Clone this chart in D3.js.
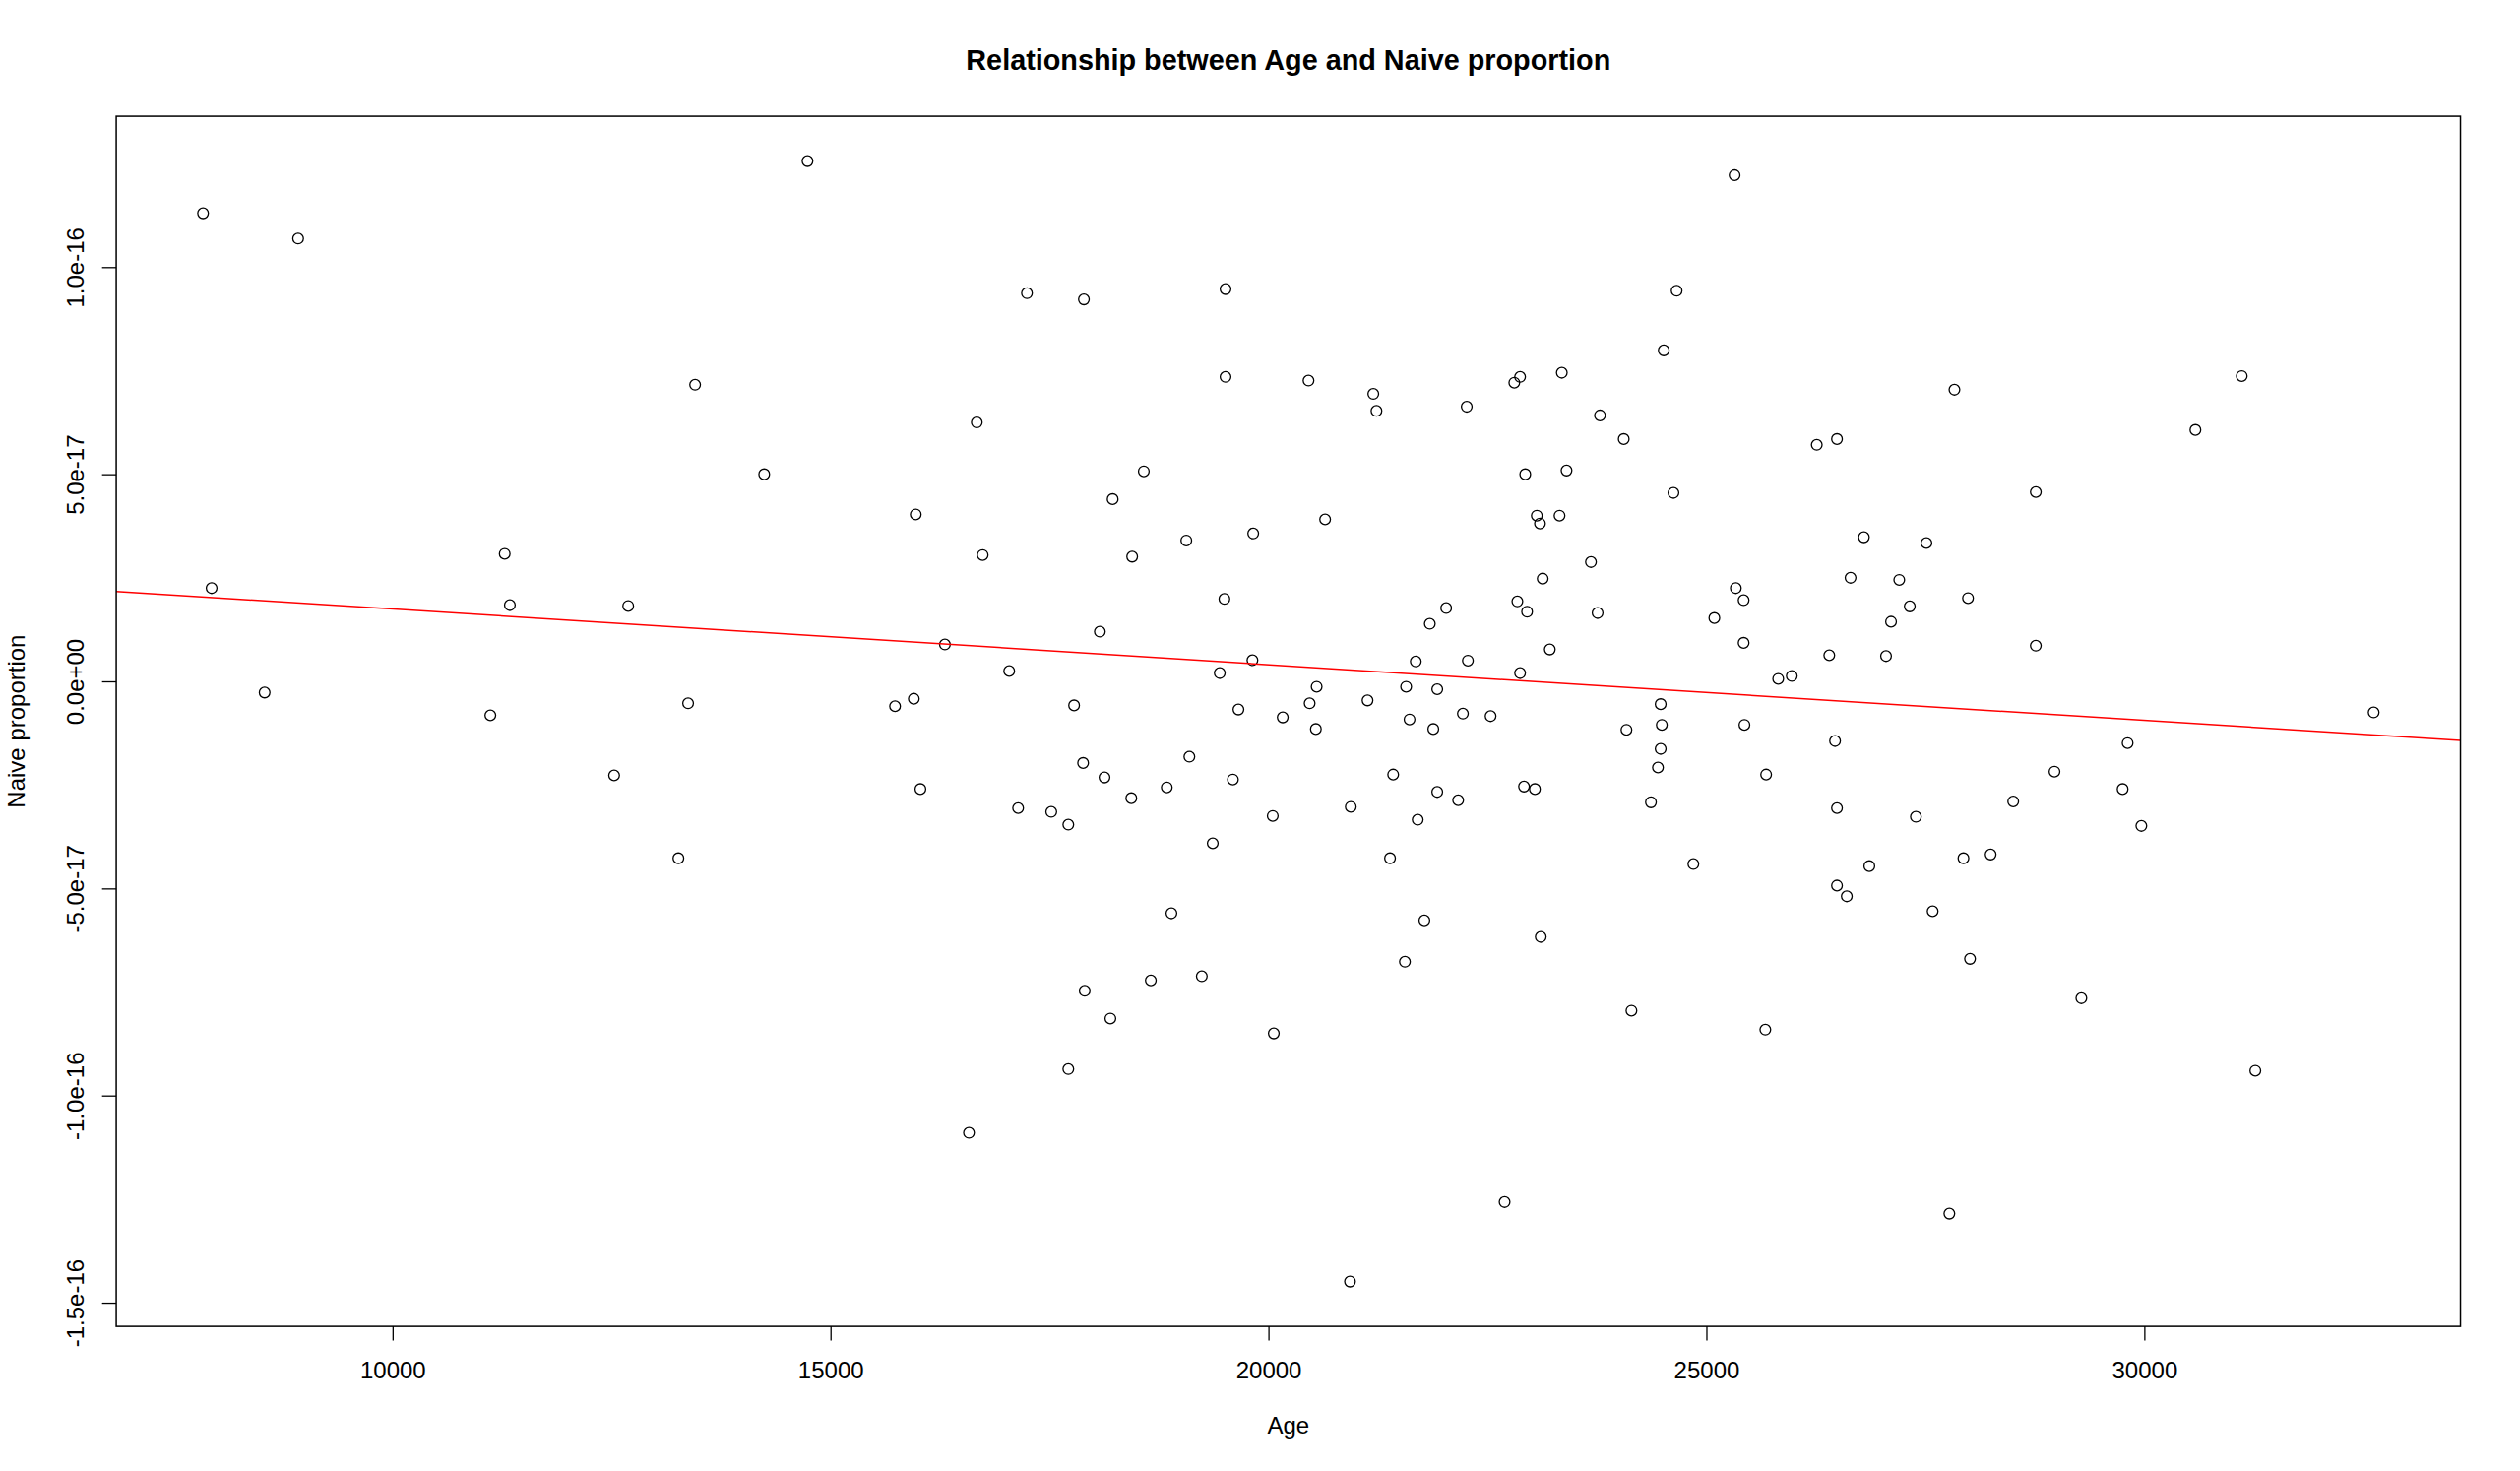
<!DOCTYPE html>
<html>
<head>
<meta charset="utf-8">
<script src="https://cdn.jsdelivr.net/npm/d3@7"></script>
<style>
  html, body { margin: 0; padding: 0; background: #ffffff; }
  svg { display: block; }
  text { font-family: "Liberation Sans", Arial, Helvetica, sans-serif; fill: #000; }
</style>
</head>
<body>
<svg id="chart" width="2560" height="1494"></svg>
<script>
// ---- Data ----
const ages = [
  7836, 8921, 13454, 11280, 7934, 11339, 12690, 8539, 11116, 13374,
  12529, 13263, 14737, 17243, 17893, 19510, 19510, 20457, 16670, 14243,
  18577, 18221, 15973, 19826, 19062, 16737, 18444, 19497, 18075, 16306,
  17040, 19817, 19444, 20550, 15737, 15951, 17781, 19657, 20163, 20470,
  20541, 25322, 24660, 24513, 21197, 21233, 22264, 22807, 22873, 23349,
  23785, 24056, 26260, 26491, 20647, 22932, 23403, 24624, 23064, 23100,
  23323, 23682, 26798, 23131, 22842, 22953, 22029, 21842, 23758, 23212,
  21682, 22277, 22873, 25336, 25425, 25091, 25425, 26646, 27202, 27322,
  27108, 26403, 27051, 25820, 25975, 21131, 21572, 21927, 21611, 21882,
  22220, 22536, 24478, 24491, 24087, 25434, 26469, 27832, 31112, 30583,
  28761, 27512, 27987, 28761, 32618, 29809, 28974, 29752, 28503, 27392,
  29966, 27935, 28245, 27583, 28010, 29281, 31267, 27774, 21424, 20940,
  21927, 22166, 21704, 22918, 23042, 24478, 24447, 24367, 25682, 26491,
  21388, 24851, 26860, 26491, 26603, 21780, 23109, 21558, 24144, 25673,
  22696, 20931, 16026, 17142, 17520, 17715, 17884, 18128, 18434, 18839,
  19097, 19594, 20049, 19364, 18892, 18657, 19239, 17902, 18195, 20061,
  17715, 16581
];
// Naive proportion, in units of 1e-17
const naiveE17 = [
  11.30, 10.69, 7.16, 3.08, 2.25, 1.84, 1.82, -0.27, -0.82, -0.53,
  -2.27, -4.27, 12.56, 9.37, 9.22, 9.47, 7.35, 7.26, 6.25, 5.00,
  5.07, 4.40, 4.03, 3.57, 3.40, 3.05, 3.01, 1.99, 1.20, 0.89,
  0.25, 0.51, 0.20, -0.13, -0.60, -0.42, -0.58, -0.68, -0.87, -0.53,
  -1.15, 12.22, 9.43, 7.99, 6.94, 6.53, 6.63, 7.21, 7.35, 7.45,
  6.42, 5.85, 5.71, 5.85, 3.91, 5.00, 5.09, 4.55, 4.00, 3.81,
  4.00, 2.88, 3.48, 2.48, 1.93, 1.68, 1.77, 1.39, 1.65, 0.77,
  0.48, 0.50, 0.20, 2.25, 1.96, 1.53, 0.93, 2.50, 2.45, 1.81,
  1.44, 0.63, 0.61, 0.06, 0.13, -0.46, -0.13, -0.19, -0.92, -1.15,
  -0.78, -0.84, -0.55, -1.05, -1.17, -1.05, -1.44, 7.04, 7.37, 6.07,
  4.57, 3.34, 2.01, 0.86, -0.75, -1.49, -2.18, -2.60, -2.90, -3.27,
  -3.49, -4.27, -4.18, -5.55, -6.70, -7.65, -9.40, -12.85, -2.25, -3.03,
  -2.67, -2.87, -3.34, -2.54, -2.60, -1.63, -2.08, -2.92, -2.25, -3.06,
  -4.27, -4.41, -4.46, -4.93, -5.19, -5.77, -6.17, -6.77, -7.95, -8.41,
  -12.57, -14.49, -2.60, -3.06, -3.15, -3.46, -1.97, -2.32, -2.82, -2.56,
  -1.82, -2.37, -3.25, -3.91, -5.60, -7.22, -7.12, -7.47, -8.14, -8.50,
  -9.36, -10.90
];
const naive = naiveE17.map(v => v * 1e-17);

const xTicks = [10000, 15000, 20000, 25000, 30000];
const yTicks = [-1.5e-16, -1.0e-16, -5.0e-17, 0, 5.0e-17, 1.0e-16];
const yTickLabels = ["-1.5e-16", "-1.0e-16", "-5.0e-17", "0.0e+00", "5.0e-17", "1.0e-16"];

const titleText = "Relationship between Age and Naive proportion";
const xLabel = "Age";
const yLabel = "Naive proportion";

// ---- Layout ----
const W = 2560, H = 1494;
const lineH = 28.8;
const plot = { left: 4.1 * lineH, right: W - 2.1 * lineH, top: 4.1 * lineH, bottom: H - 5.1 * lineH };
const fontSize = 24;
const tickLen = 14.4;
const fontFam = '"Liberation Sans", Arial, sans-serif';

const points = ages.map((a, i) => ({ age: a, val: naive[i] }));

function rExtend(ext) { const d = (ext[1] - ext[0]) * 0.04; return [ext[0] - d, ext[1] + d]; }

const x = d3.scaleLinear().domain(rExtend(d3.extent(ages))).range([plot.left, plot.right]);
const y = d3.scaleLinear().domain(rExtend(d3.extent(naive))).range([plot.bottom, plot.top]);

const svg = d3.select("#chart");
svg.append("rect").attr("width", W).attr("height", H).attr("fill", "#fff");

// clip
svg.append("defs").append("clipPath").attr("id", "plotclip")
  .append("rect").attr("x", plot.left).attr("y", plot.top)
  .attr("width", plot.right - plot.left).attr("height", plot.bottom - plot.top);

// points
svg.append("g").selectAll("circle").data(points).join("circle")
  .attr("cx", d => x(d.age)).attr("cy", d => y(d.val)).attr("r", 5.4)
  .attr("fill", "none").attr("stroke", "#000").attr("stroke-width", 1.3);

// least squares fit (abline(lm(naive ~ age)))
const mx = d3.mean(ages), my = d3.mean(naive);
let sxy = 0, sxx = 0;
points.forEach(p => { sxy += (p.age - mx) * (p.val - my); sxx += (p.age - mx) * (p.age - mx); });
const slope = sxy / sxx, intercept = my - slope * mx;
const xd = x.domain();
svg.append("path")
  .datum(xd.map(a => ({ age: a, val: intercept + slope * a })))
  .attr("clip-path", "url(#plotclip)")
  .attr("d", d3.line().x(d => x(d.age)).y(d => y(d.val)))
  .attr("fill", "none").attr("stroke", "#ff0000").attr("stroke-width", 1.5);

// box
svg.append("rect").attr("x", plot.left).attr("y", plot.top)
  .attr("width", plot.right - plot.left).attr("height", plot.bottom - plot.top)
  .attr("fill", "none").attr("stroke", "#000").attr("stroke-width", 1.5);

// x axis
const gx = svg.append("g").attr("transform", `translate(0,${plot.bottom})`)
  .call(d3.axisBottom(x).tickValues(xTicks).tickFormat(d3.format("d"))
    .tickSize(tickLen).tickPadding(35.5 - tickLen));
gx.select(".domain").remove();
gx.selectAll("line").attr("stroke", "#000").attr("stroke-width", 1.3);
gx.selectAll("text").attr("font-size", fontSize).attr("font-family", fontFam).attr("fill", "#000");

// y axis
const gy = svg.append("g").attr("transform", `translate(${plot.left},0)`)
  .call(d3.axisLeft(y).tickValues(yTicks).tickFormat((d, i) => yTickLabels[i]).tickSize(tickLen));
gy.select(".domain").remove();
gy.selectAll("line").attr("stroke", "#000").attr("stroke-width", 1.3);
gy.selectAll("text")
  .attr("x", 0).attr("dy", 0).attr("text-anchor", "middle")
  .attr("transform", `translate(${-(plot.left - 85)},0) rotate(-90)`)
  .attr("font-size", fontSize).attr("font-family", fontFam).attr("fill", "#000");

// title
svg.append("text").attr("x", (plot.left + plot.right) / 2).attr("y", 70.7)
  .attr("text-anchor", "middle").attr("font-weight", "bold").attr("font-size", 28.8)
  .attr("font-family", fontFam)
  .text(titleText);

// axis labels
svg.append("text").attr("x", (plot.left + plot.right) / 2).attr("y", 1456)
  .attr("text-anchor", "middle").attr("font-size", fontSize).attr("font-family", fontFam).text(xLabel);
svg.append("text")
  .attr("transform", `translate(25,${(plot.top + plot.bottom) / 2}) rotate(-90)`)
  .attr("text-anchor", "middle").attr("font-size", fontSize).attr("font-family", fontFam).text(yLabel);
</script>
</body>
</html>
